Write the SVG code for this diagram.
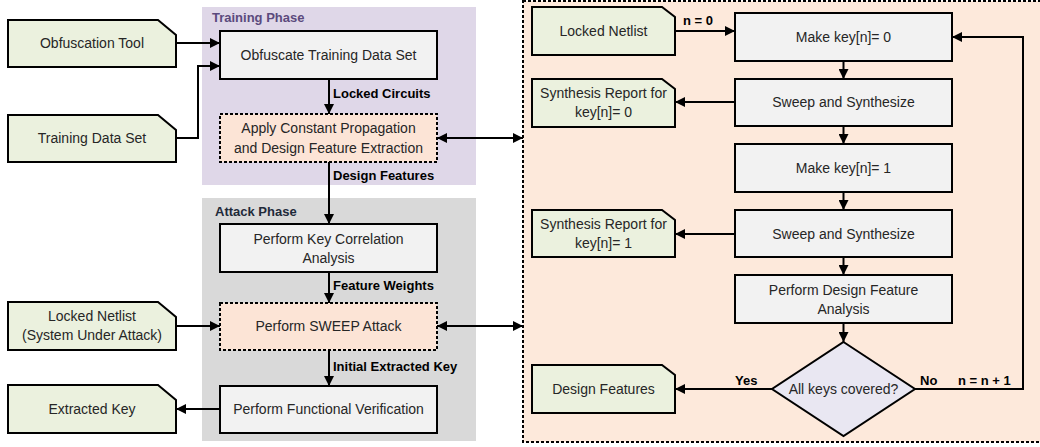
<svg xmlns="http://www.w3.org/2000/svg" width="1040" height="447" viewBox="0 0 1040 447">
  <defs>
    <marker id="arr" viewBox="0 0 10 10" refX="10" refY="5" markerWidth="5" markerHeight="5" orient="auto-start-reverse" markerUnits="strokeWidth">
      <path d="M0,0 L10,5 L0,10 z" fill="#000"/>
    </marker>
    <style>
      .box { fill: #f2f2f2; stroke: #000; stroke-width: 2; }
      .dash { fill: #fce4d6; stroke: #000; stroke-width: 2; stroke-dasharray: 3 2; }
      .note { fill: #ebf1de; stroke: #000; stroke-width: 2; }
      .txt { font-family: "Liberation Sans", Arial, sans-serif; font-size: 14px; fill: #262626; text-anchor: middle; }
      .lbl { font-family: "Liberation Sans", Arial, sans-serif; font-size: 13px; font-weight: bold; fill: #000; }
      .conn { fill: none; stroke: #000; stroke-width: 2; }
      .a { marker-end: url(#arr); }
      .aa { marker-start: url(#arr); marker-end: url(#arr); }
    </style>
  </defs>

  <!-- phase panels -->
  <g id="training-phase">
    <rect x="202" y="7" width="274" height="178" fill="#dfd7e8"/>
    <text x="212" y="22" class="lbl" fill="#5b4a7d" style="fill:#5b4a7d">Training Phase</text>
  </g>
  <g id="attack-phase">
    <rect x="202" y="198" width="274" height="243" fill="#d9d9d9"/>
    <text x="215" y="216" class="lbl" style="fill:#1f2a3a">Attack Phase</text>
  </g>

  <!-- detail panel -->
  <g id="sweep-detail">
    <rect x="523" y="1" width="530" height="441" fill="#fde9db" stroke="#000" stroke-width="2" stroke-dasharray="3 2"/>
  </g>

  <!-- left inputs / outputs -->
  <g id="obfuscation-tool">
    <path class="note" d="M8,20 H158 L176,35 V67 H8 Z"/>
    <text x="92" y="48" class="txt">Obfuscation Tool</text>
  </g>
  <g id="training-data-set">
    <path class="note" d="M8,115 H158 L176,130 V162 H8 Z"/>
    <text x="92" y="143" class="txt">Training Data Set</text>
  </g>
  <g id="locked-netlist-attack">
    <path class="note" d="M8,302 H158 L176,317 V350 H8 Z"/>
    <text x="92" y="321" class="txt">Locked Netlist</text>
    <text x="92" y="340" class="txt">(System Under Attack)</text>
  </g>
  <g id="extracted-key">
    <path class="note" d="M8,385 H158 L176,400 V433 H8 Z"/>
    <text x="92" y="414" class="txt">Extracted Key</text>
  </g>

  <!-- training flow -->
  <g id="obfuscate">
    <rect class="box" x="220" y="31" width="217" height="48"/>
    <text x="328.5" y="60" class="txt">Obfuscate Training Data Set</text>
  </g>
  <g id="constant-propagation">
    <rect class="dash" x="220" y="114" width="217" height="48"/>
    <text x="328.5" y="133" class="txt">Apply Constant Propagation</text>
    <text x="328.5" y="153" class="txt">and Design Feature Extraction</text>
  </g>

  <!-- attack flow -->
  <g id="key-correlation">
    <rect class="box" x="220" y="224" width="217" height="48"/>
    <text x="328.5" y="244" class="txt">Perform Key Correlation</text>
    <text x="328.5" y="263" class="txt">Analysis</text>
  </g>
  <g id="sweep-attack">
    <rect class="dash" x="220" y="303" width="217" height="47"/>
    <text x="328.5" y="331" class="txt">Perform SWEEP Attack</text>
  </g>
  <g id="functional-verification">
    <rect class="box" x="220" y="386" width="217" height="47"/>
    <text x="328.5" y="414" class="txt">Perform Functional Verification</text>
  </g>

  <!-- detail flow -->
  <g id="locked-netlist">
    <path class="note" d="M532,7 H662 L675,17 V55 H532 Z"/>
    <text x="603.5" y="36" class="txt">Locked Netlist</text>
  </g>
  <g id="make-key-0">
    <rect class="box" x="735" y="13" width="217" height="48"/>
    <text x="843.5" y="42" class="txt">Make key[n]= 0</text>
  </g>
  <g id="report-0">
    <path class="note" d="M532,79 H662 L675,89 V127 H532 Z"/>
    <text x="603.5" y="98" class="txt">Synthesis Report for</text>
    <text x="603.5" y="117" class="txt">key[n]= 0</text>
  </g>
  <g id="sweep-0">
    <rect class="box" x="735" y="79" width="217" height="47"/>
    <text x="843.5" y="107" class="txt">Sweep and Synthesize</text>
  </g>
  <g id="make-key-1">
    <rect class="box" x="735" y="144" width="217" height="48"/>
    <text x="843.5" y="173" class="txt">Make key[n]= 1</text>
  </g>
  <g id="report-1">
    <path class="note" d="M532,210 H662 L675,220 V257 H532 Z"/>
    <text x="603.5" y="229" class="txt">Synthesis Report for</text>
    <text x="603.5" y="248" class="txt">key[n]= 1</text>
  </g>
  <g id="sweep-1">
    <rect class="box" x="735" y="210" width="217" height="47"/>
    <text x="843.5" y="239" class="txt">Sweep and Synthesize</text>
  </g>
  <g id="feature-analysis">
    <rect class="box" x="735" y="275" width="217" height="48"/>
    <text x="843.5" y="295" class="txt">Perform Design Feature</text>
    <text x="843.5" y="314" class="txt">Analysis</text>
  </g>
  <g id="all-keys">
    <path d="M843.5,342 L915,389 L843.5,436 L772,389 Z" fill="#e9e7f2" stroke="#000" stroke-width="2"/>
    <text x="843.5" y="394" class="txt">All keys covered?</text>
  </g>
  <g id="design-features">
    <path class="note" d="M532,365 H662 L675,375 V413 H532 Z"/>
    <text x="603.5" y="394" class="txt">Design Features</text>
  </g>

  <!-- connectors -->
  <g id="connectors">
    <path class="conn a" d="M176,43 H220"/>
    <path class="conn a" d="M176,138 H198 V66 H220"/>
    <path class="conn a" d="M329,79 V114"/>
    <path class="conn a" d="M329,162 V224"/>
    <path class="conn a" d="M329,272 V303"/>
    <path class="conn a" d="M329,350 V386"/>
    <path class="conn a" d="M176,326 H220"/>
    <path class="conn a" d="M220,409 H176"/>
    <path class="conn aa" d="M437,138 H523"/>
    <path class="conn aa" d="M437,326 H523"/>

    <path class="conn a" d="M675,31 H735"/>
    <path class="conn a" d="M843.5,61 V79"/>
    <path class="conn a" d="M735,102 H675"/>
    <path class="conn a" d="M843.5,126 V144"/>
    <path class="conn a" d="M843.5,192 V210"/>
    <path class="conn a" d="M735,234 H675"/>
    <path class="conn a" d="M843.5,257 V275"/>
    <path class="conn a" d="M843.5,323 V342"/>
    <path class="conn a" d="M772,389 H675"/>
    <path class="conn a" d="M915,389 H1023 V37 H952"/>

    <text x="333" y="98" class="lbl">Locked Circuits</text>
    <text x="333" y="180" class="lbl">Design Features</text>
    <text x="333" y="290" class="lbl">Feature Weights</text>
    <text x="333" y="371" class="lbl">Initial Extracted Key</text>
    <text x="683" y="25" class="lbl">n = 0</text>
    <text x="735" y="385" class="lbl">Yes</text>
    <text x="920" y="385" class="lbl">No</text>
    <text x="958" y="385" class="lbl">n = n + 1</text>
  </g>
</svg>
